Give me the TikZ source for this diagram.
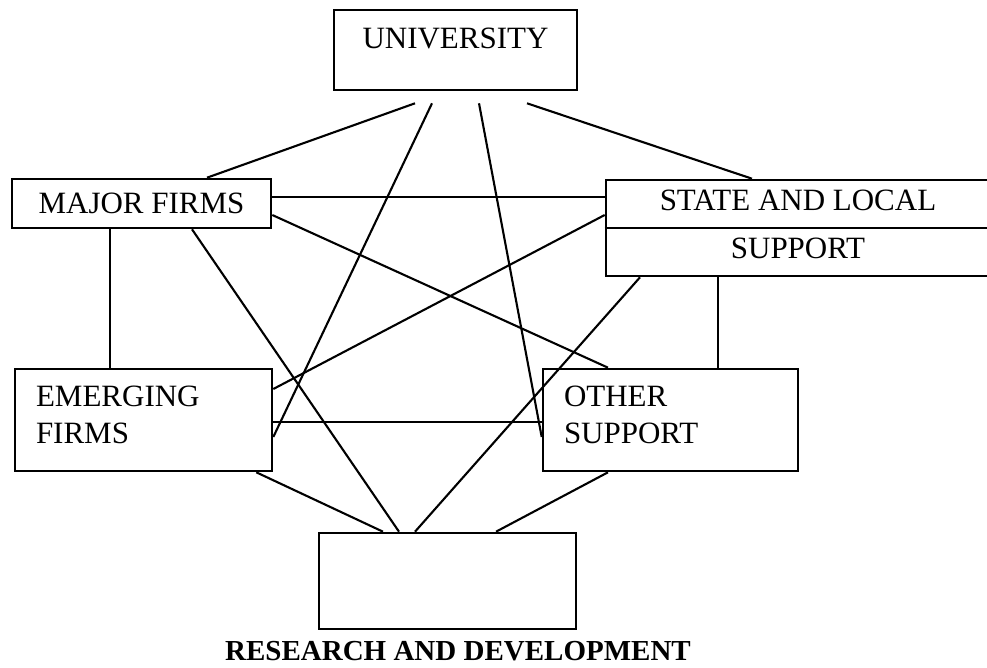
\documentclass[tikz,border=0pt]{standalone}
\usepackage{fontspec}
\setmainfont{Liberation Serif}
\usetikzlibrary{positioning}
\tikzset{
  block/.style   = { draw, line width=2.6pt, inner sep=0pt, font=\fontsize{31}{37}\selectfont },
  twoline/.style = { block, align=left, text width=#1, inner xsep=21pt, text depth=48pt },
  link/.style    = { line width=2.1pt },
  caption/.style = { inner sep=0pt, font=\fontsize{29}{34}\selectfont\bfseries }
}

\begin{document}
\begin{tikzpicture}[x=1pt, y=-1pt]
    \useasboundingbox (0,0) rectangle (987,668);
    \clip (0,0) rectangle (987,668);

    \node[block, minimum width=243pt, minimum height=80pt, text depth=24.5pt] (univ) at (455.5,50) {UNIVERSITY};
    \node[block, minimum width=259pt, minimum height=49pt] (major) at (141.5,203.5) {MAJOR FIRMS};
    \node[block, minimum width=384pt, minimum height=96pt, align=center, text depth=7pt] (state) at (798,228) {STATE AND LOCAL\\[11pt]SUPPORT};
    \draw[line width=2.6pt] (state.west) -- (state.east);

    \node[twoline=215pt, minimum width=257pt, minimum height=102pt] (emerging) at (143.5,420) {EMERGING\\FIRMS};
    \node[twoline=213pt, minimum width=255pt, minimum height=102pt] (other)    at (670.5,420) {OTHER\\SUPPORT};

    \node[block, minimum width=257pt, minimum height=96pt] (rnd) at (447.5,581) {};
    \node[caption, below=11pt of rnd, xshift=10.5pt] (rndlabel) {RESEARCH AND DEVELOPMENT};

    %% from the university
    \draw[link] ([xshift=-40.5pt, yshift=-12pt]univ.south) -- ([xshift=65.5pt]major.north);
    \draw[link] ([xshift=-23.5pt, yshift=-12pt]univ.south) -- ([yshift=-17pt]emerging.east);
    \draw[link] ([xshift=23.5pt,  yshift=-12pt]univ.south) -- ([yshift=-17pt]other.west);
    \draw[link] ([xshift=71.5pt,  yshift=-12pt]univ.south) -- ([xshift=-46pt]state.north);

    %% from the major firms
    \draw[link] ([yshift=6.5pt]major.east)   -- ([yshift=31pt]state.west);
    \draw[link] ([yshift=-11.5pt]major.east) -- ([xshift=-62.5pt]other.north);
    \draw[link] ([xshift=50.5pt]major.south) -- ([xshift=-48.5pt]rnd.north);
    \draw[link] ([xshift=-31.5pt]major.south) -- ([xshift=-33.5pt]emerging.north);

    %% from state and local support
    \draw[link] ([yshift=13pt]state.west)     -- ([yshift=31pt]emerging.east);
    \draw[link] ([xshift=-158pt]state.south)  -- ([xshift=-32.5pt]rnd.north);
    \draw[link] ([xshift=-80pt]state.south)   -- ([xshift=47.5pt]other.north);

    %% lower row
    \draw[link] ([yshift=-2pt]emerging.east)        -- ([yshift=-2pt]other.west);
    \draw[link] ([xshift=-17pt]emerging.south east) -- ([xshift=-64.5pt]rnd.north);
    \draw[link] ([xshift=-62.5pt]other.south)       -- ([xshift=48.5pt]rnd.north);
\end{tikzpicture}
\end{document}
